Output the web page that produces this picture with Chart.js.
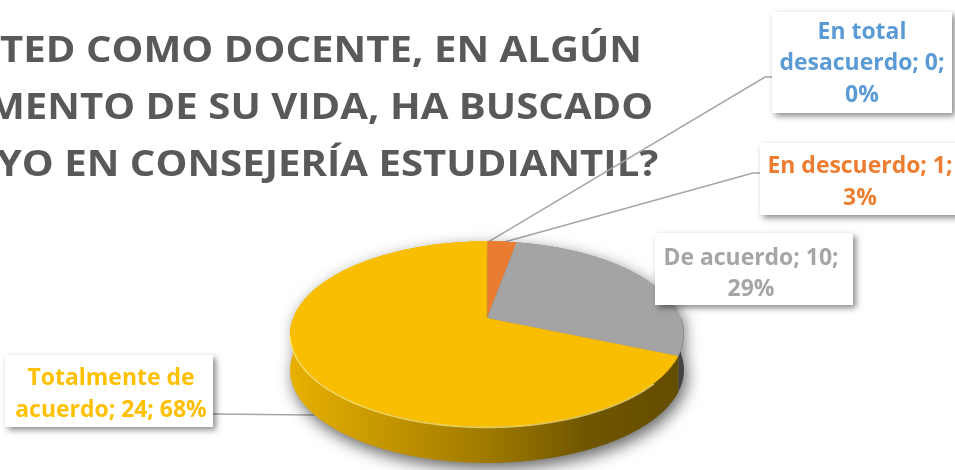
<!DOCTYPE html>
<html><head><meta charset="utf-8">
<script src="https://cdn.jsdelivr.net/npm/chart.js@4/dist/chart.umd.min.js"></script>
<style>html,body{margin:0;padding:0;background:#fff;overflow:hidden}#wrap{position:relative;width:955px;height:470px}</style>
</head><body><div id="wrap"><canvas id="c" width="955" height="470"></canvas></div>
<script>
// ---- data ----
const titleLines = ['¿USTED COMO DOCENTE, EN ALGÚN', 'MOMENTO DE SU VIDA, HA BUSCADO', 'APOYO EN CONSEJERÍA ESTUDIANTIL?'];
const categories = ['En total desacuerdo', 'En descuerdo', 'De acuerdo', 'Totalmente de acuerdo'];
const counts = [0, 1, 10, 24];
const percents = [0, 3, 29, 68];

// ---- styles / layout ----
const topColors = ['#5B9BD5', '#E97C30', '#A4A4A4', '#F9BE00'];
const labelColors = ['#5B9BD5', '#ED7D31', '#A5A5A5', '#FFC000'];
// perspective projection of the pie disc: screen centre, half-width, depth scale, perspective factor, thickness
const P = {x0: 487, y0: 318, C: 194, B: 90.2, p: 0.172, depth: 36};
const FONT = '"Open Sans", Lato, sans-serif';
const boxes = [
  {x: 772, y: 12, w: 180, h: 101, tx: 862, base: 38.5, elbow: [765, 77]},
  {x: 760, y: 143, w: 200, h: 72, tx: 860, base: 173, elbow: [753, 173]},
  {x: 655, y: 233, w: 198, h: 72, tx: 751, base: 264.5, elbow: null},
  {x: 5, y: 355, w: 208, h: 72, tx: 111, base: 385, elbow: null, sideY: 414}
];
const LH = 31.5;

function shade(hex, f) {
  const n = parseInt(hex.slice(1), 16);
  const r = (n >> 16) & 255, g = (n >> 8) & 255, b = n & 255;
  return `rgb(${Math.round(r * f)},${Math.round(g * f)},${Math.round(b * f)})`;
}
function wrap(ctx, text, maxW, sx) {
  const words = text.split(' ');
  const lines = [];
  let cur = '';
  for (const w of words) {
    const t = cur ? cur + ' ' + w : w;
    if (cur && ctx.measureText(t).width * sx > maxW) { lines.push(cur); cur = w; }
    else cur = t;
  }
  if (cur) lines.push(cur);
  return lines;
}
// angle on the flat (library-drawn) pie -> screen point on the tilted disc rim
function proj(a, dz) {
  const u = Math.cos(a), w = Math.sin(a);
  const d = 1 - P.p * w;
  return [P.x0 + P.C * u / d, P.y0 + P.B * w / d + (dz || 0)];
}
function midAngle(arc) { return (arc.startAngle + arc.endAngle) / 2; }

const pie3d = {
  id: 'pie3d',
  afterDatasetsDraw(chart) {
    const ctx = chart.ctx;
    const cv = chart.canvas;
    const arcs = chart.getDatasetMeta(0).data;
    const a0 = arcs[0];
    const ox = a0.x, oy = a0.y, r = a0.outerRadius;
    const dpr = chart.currentDevicePixelRatio || 1;

    // grab the flat pie the library has drawn
    const tmp = document.createElement('canvas');
    tmp.width = cv.width; tmp.height = cv.height;
    tmp.getContext('2d').drawImage(cv, 0, 0);

    ctx.save();
    ctx.setTransform(dpr, 0, 0, dpr, 0, 0);
    ctx.clearRect(0, 0, chart.width, chart.height);

    // ---- title ----
    ctx.save();
    ctx.fillStyle = '#595959';
    ctx.font = 'bold 35px ' + FONT;
    const visW = ctx.measureText('TED COMO DOCENTE, EN ALGÚN').width;
    const tsx = 642 / visW;
    const pre = ctx.measureText('¿US').width * tsx;
    const full0 = ctx.measureText(titleLines[0]).width * tsx;
    const tcx = -pre + full0 / 2;
    const tBase = [62, 119, 176];
    ctx.textAlign = 'center';
    titleLines.forEach((ln, i) => {
      ctx.save();
      ctx.translate(tcx, tBase[i]);
      ctx.scale(tsx, 1);
      ctx.fillText(ln, 0, 0);
      ctx.restore();
    });
    ctx.restore();

    // ---- leader lines ----
    ctx.save();
    ctx.strokeStyle = '#A6A6A6';
    ctx.lineWidth = 1.5;
    boxes.forEach((b, i) => {
      const arc = arcs[i];
      if (b.elbow) {
        const p = proj(midAngle(arc), 1.5);
        ctx.beginPath();
        ctx.moveTo(p[0], p[1]);
        ctx.lineTo(b.elbow[0], b.elbow[1]);
        ctx.lineTo(b.x, b.elbow[1]);
        ctx.stroke();
      } else if (b.sideY) {
        const p = proj(midAngle(arc), 0);
        ctx.beginPath();
        ctx.moveTo(b.x + b.w, b.sideY);
        ctx.lineTo(p[0] + 6, b.sideY + 1);
        ctx.stroke();
      }
    });
    ctx.restore();

    // ---- drop shadow of the whole pie ----
    const off = 3000;
    ctx.save();
    ctx.shadowColor = 'rgba(0,0,0,0.6)';
    ctx.shadowBlur = 16;
    ctx.shadowOffsetX = (off + 3) * dpr;
    ctx.shadowOffsetY = 6 * dpr;
    ctx.translate(-off, 0);
    ctx.beginPath();
    const N = 180;
    for (let k = 0; k <= N; k++) {
      const a = Math.PI + Math.PI * k / N;
      const q = proj(a, 0);
      k ? ctx.lineTo(q[0], q[1]) : ctx.moveTo(q[0], q[1]);
    }
    for (let k = 0; k <= N; k++) {
      const q = proj(Math.PI * k / N, P.depth);
      ctx.lineTo(q[0], q[1]);
    }
    ctx.closePath();
    ctx.fillStyle = '#000';
    ctx.fill();
    ctx.restore();

    // ---- side walls ----
    const xl = P.x0 - P.C * 1.02, xr = P.x0 + P.C * 1.02;
    arcs.forEach((arc, i) => {
      const s = Math.max(arc.startAngle, 0), e = Math.min(arc.endAngle, Math.PI);
      if (e <= s) return;
      const grad = ctx.createLinearGradient(xl, 0, xr, 0);
      const base = topColors[i];
      grad.addColorStop(0, shade(base, 0.93));
      grad.addColorStop(0.12, shade(base, 0.86));
      grad.addColorStop(0.5, shade(base, 0.64));
      grad.addColorStop(0.75, shade(base, 0.45));
      grad.addColorStop(1, shade(base, 0.40));
      const n = Math.max(2, Math.ceil((e - s) / 0.01));
      ctx.beginPath();
      for (let k = 0; k <= n; k++) {
        const q = proj(s + (e - s) * k / n, 0);
        k ? ctx.lineTo(q[0], q[1]) : ctx.moveTo(q[0], q[1]);
      }
      for (let k = n; k >= 0; k--) {
        const q = proj(s + (e - s) * k / n, P.depth);
        ctx.lineTo(q[0], q[1]);
      }
      ctx.closePath();
      ctx.fillStyle = grad;
      ctx.fill();
    });

    // ---- top face: perspective warp of the library's pie, row by row ----
    const yTop = P.y0 - P.B / (1 + P.p), yBot = P.y0 + P.B / (1 - P.p);
    for (let y = Math.floor(yTop) - 1; y <= Math.ceil(yBot) + 1; y++) {
      const t = (y + 0.5 - P.y0) / P.B;
      const w = t / (1 + P.p * t);
      if (w < -1.02 || w > 1.02) continue;
      const d = 1 - P.p * w;
      const srcY = oy + w * r;
      const srcH = r / (P.B * (1 + P.p * t) * (1 + P.p * t));
      const dw = 2 * P.C / d;
      ctx.drawImage(tmp, (ox - r) * dpr, (srcY - srcH / 2) * dpr, 2 * r * dpr, srcH * dpr,
        P.x0 - dw / 2, y, dw, 1);
    }

    // ---- bevel highlight along the front rim ----
    ctx.beginPath();
    for (let k = 0; k <= 120; k++) {
      const a = 0.7 + (2.95 - 0.7) * k / 120;
      const q = proj(a, 0.5);
      k ? ctx.lineTo(q[0], q[1]) : ctx.moveTo(q[0], q[1]);
    }
    ctx.strokeStyle = 'rgba(255,236,130,0.7)';
    ctx.lineWidth = 1.6;
    ctx.stroke();

    // ---- label boxes ----
    ctx.font = 'bold 23px ' + FONT;
    const lsx = 185 / ctx.measureText('En descuerdo; 1;').width;
    boxes.forEach((b, i) => {
      ctx.save();
      ctx.shadowColor = 'rgba(0,0,0,0.45)';
      ctx.shadowBlur = 6;
      ctx.shadowOffsetX = 3 * dpr;
      ctx.shadowOffsetY = 3 * dpr;
      ctx.fillStyle = '#fff';
      ctx.fillRect(b.x, b.y, b.w, b.h);
      ctx.restore();
      const text = `${categories[i]}; ${counts[i]}; ${percents[i]}%`;
      const lines = wrap(ctx, text, b.w - 8, lsx);
      ctx.fillStyle = labelColors[i];
      ctx.textAlign = 'center';
      lines.forEach((ln, k) => {
        ctx.save();
        ctx.translate(b.tx, b.base + k * LH);
        ctx.scale(lsx, 1);
        ctx.fillText(ln, 0, 0);
        ctx.restore();
      });
    });
    ctx.restore();
  }
};

new Chart(document.getElementById('c'), {
  type: 'pie',
  data: {
    labels: categories,
    datasets: [{data: counts, backgroundColor: topColors, borderWidth: 0}]
  },
  options: {
    responsive: false,
    animation: false,
    events: [],
    layout: {padding: 0},
    plugins: {legend: {display: false}, tooltip: {enabled: false}, title: {display: false}}
  },
  plugins: [pie3d]
});
</script>
</body></html>
